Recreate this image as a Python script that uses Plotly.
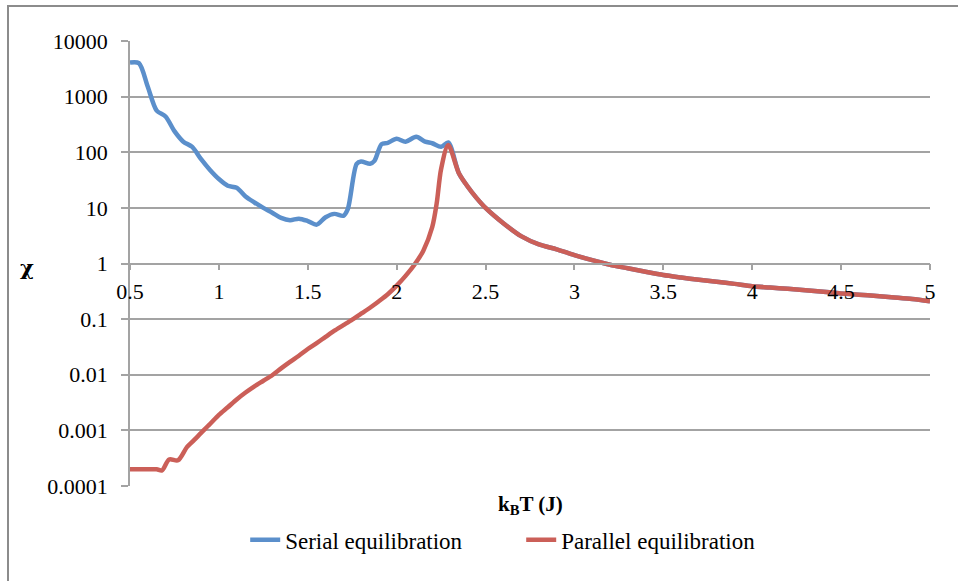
import plotly.graph_objects as go

# Serial equilibration (blue)
serial_x = [0.50, 0.55, 0.60, 0.65, 0.70, 0.75, 0.80, 0.85, 0.90, 0.95, 1.00, 1.05, 1.10, 1.15,
            1.20, 1.25, 1.30, 1.35, 1.40, 1.45, 1.50, 1.55, 1.60, 1.65, 1.70, 1.725, 1.775, 1.80,
            1.85, 1.875, 1.915, 1.95, 2.00, 2.05, 2.11, 2.16, 2.20, 2.25, 2.29,
            2.35, 2.40, 2.45, 2.50, 2.60, 2.70, 2.80, 2.90, 3.00, 3.10, 3.20, 3.30, 3.40, 3.50,
            3.60, 3.70, 3.80, 3.90, 4.00, 4.10, 4.20, 4.30, 4.40, 4.50, 4.60, 4.70, 4.80, 4.90, 5.00]
serial_y = [4100, 4000, 1500, 560, 440, 240, 155, 125, 75, 48, 33, 25, 23, 16,
            12.5, 10, 8.2, 6.6, 6.0, 6.4, 5.8, 5.0, 6.8, 7.8, 7.2, 9.5, 62, 68,
            62, 70, 140, 148, 175, 155, 190, 155, 145, 125, 150,
            42, 24, 15, 10, 5.3, 3.1, 2.2, 1.8, 1.42, 1.15, 0.95, 0.82, 0.71, 0.62,
            0.56, 0.51, 0.47, 0.43, 0.39, 0.37, 0.35, 0.33, 0.31, 0.29, 0.275, 0.26, 0.245, 0.23, 0.21]

# Parallel equilibration (red)
parallel_x = [0.50, 0.55, 0.60, 0.65, 0.68, 0.72, 0.77, 0.82, 0.85, 0.90, 0.95, 1.00, 1.05, 1.10,
              1.15, 1.20, 1.25, 1.30, 1.35, 1.40, 1.45, 1.50, 1.55, 1.60, 1.65, 1.70, 1.75, 1.80,
              1.85, 1.90, 1.95, 2.00, 2.05, 2.10, 2.15, 2.20, 2.225, 2.25, 2.29,
              2.35, 2.40, 2.45, 2.50, 2.60, 2.70, 2.80, 2.90, 3.00, 3.10, 3.20, 3.30, 3.40, 3.50,
              3.60, 3.70, 3.80, 3.90, 4.00, 4.10, 4.20, 4.30, 4.40, 4.50, 4.60, 4.70, 4.80, 4.90, 5.00]
parallel_y = [0.0002, 0.0002, 0.0002, 0.0002, 0.00019, 0.0003, 0.00029, 0.0005, 0.00062, 0.0009,
              0.0013, 0.0019, 0.0026, 0.0036, 0.0048, 0.0062, 0.0078, 0.0098, 0.013, 0.017, 0.022,
              0.029, 0.037, 0.048, 0.062, 0.078, 0.098, 0.125, 0.16, 0.21, 0.28, 0.40, 0.60, 0.95,
              1.7, 4.5, 12, 50, 135,
              42, 24, 15, 10, 5.3, 3.1, 2.2, 1.8, 1.42, 1.15, 0.95, 0.82, 0.71, 0.62,
              0.56, 0.51, 0.47, 0.43, 0.39, 0.37, 0.35, 0.33, 0.31, 0.29, 0.275, 0.26, 0.245, 0.23, 0.21]

x_ticks = [0.5, 1, 1.5, 2, 2.5, 3, 3.5, 4, 4.5, 5]
x_ticktext = ["0.5", "1", "1.5", "2", "2.5", "3", "3.5", "4", "4.5", "5"]
y_ticks = [1e-4, 1e-3, 1e-2, 1e-1, 1, 10, 100, 1000, 10000]
y_ticktext = ["0.0001", "0.001", "0.01", "0.1", "1", "10", "100", "1000", "10000"]

FONT = "Liberation Serif"
GRID = "#A3A3A3"
BLUE = "#5B8FCB"
RED = "#CB5F58"

fig = go.Figure()
fig.add_trace(go.Scatter(x=serial_x, y=serial_y, mode="lines", name="Serial equilibration",
                         line=dict(color=BLUE, width=4.5, shape="spline", smoothing=0.8)))
fig.add_trace(go.Scatter(x=parallel_x, y=parallel_y, mode="lines", name="Parallel equilibration",
                         line=dict(color=RED, width=4.5, shape="spline", smoothing=0.8)))

fig.update_layout(
    width=958, height=581,
    margin=dict(l=130, r=28, t=41, b=95),
    paper_bgcolor="white", plot_bgcolor="white",
    font=dict(family=FONT, size=22, color="black"),
    xaxis=dict(range=[0.5, 5], tickvals=x_ticks, ticktext=x_ticktext,
               anchor="free", position=0.5, showgrid=False, zeroline=False,
               showline=True, linecolor=GRID, linewidth=1.5,
               ticks="outside", ticklen=6, tickcolor=GRID, tickwidth=1.5,
               tickfont=dict(family=FONT, size=22), ticklabelstandoff=2),
    yaxis=dict(type="log", range=[-4, 4], tickvals=y_ticks, ticktext=y_ticktext,
               domain=[0, 1], showgrid=True, gridcolor=GRID, gridwidth=1.5, zeroline=False,
               showline=True, linecolor=GRID, linewidth=1.5,
               ticks="outside", ticklen=7, tickcolor=GRID, tickwidth=1.5,
               tickfont=dict(family=FONT, size=22), ticklabelstandoff=9),
    legend=dict(orientation="h", x=0.144, xanchor="left", y=-0.121, yanchor="middle",
                entrywidth=231, entrywidthmode="pixels",
                font=dict(family=FONT, size=23), bgcolor="rgba(0,0,0,0)"),
    showlegend=True,
)

fig.add_annotation(text="<b>χ</b>", xref="paper", yref="paper", x=-0.129, y=0.49,
                   showarrow=False, font=dict(family="DejaVu Serif", size=21),
                   xanchor="center", yanchor="middle")
fig.add_annotation(text="<b>k<sub>B</sub>T (J)</b>", xref="paper", yref="paper", x=0.5, y=-0.043,
                   showarrow=False, font=dict(family=FONT, size=21), xanchor="center", yanchor="middle")

fig.add_shape(type="rect", xref="paper", yref="paper", x0=-0.1525, y0=-0.3, x1=1.1, y1=1.0787,
              line=dict(color="#8C8C8C", width=2), fillcolor="rgba(0,0,0,0)", layer="below")

fig.write_html("out.html")
